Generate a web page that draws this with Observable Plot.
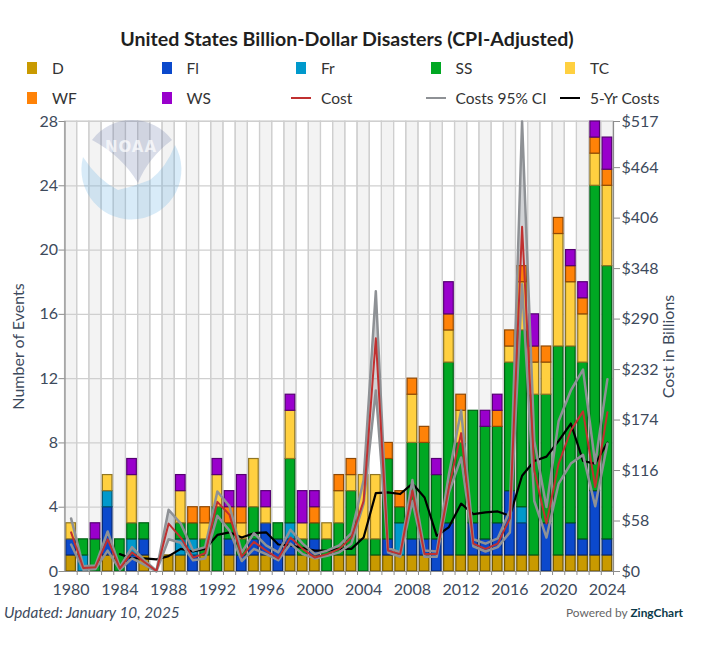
<!DOCTYPE html>
<html><head><meta charset="utf-8">
<script src="https://cdn.jsdelivr.net/npm/d3@7"></script>
<script src="https://cdn.jsdelivr.net/npm/@observablehq/plot@0.6"></script>
<style>
html,body{margin:0;padding:0;background:#fff;width:702px;height:646px;overflow:hidden;font-family:Lato,sans-serif;color:#333}
#wrap{position:relative;width:702px;height:646px}
#title{position:absolute;left:0;top:26px;width:694px;text-align:center;font-weight:700;font-size:19.6px;line-height:26px;color:#1f1f1f}
#legend{position:absolute;left:26px;top:53.5px;display:grid;grid-template-columns:repeat(5,134.5px);grid-auto-rows:29.5px;font-size:15.5px}
#legend .it{display:flex;align-items:center;height:29.5px;white-space:nowrap}
#legend .sw{display:inline-block;width:26px;flex:none}
#legend .sq{display:block;width:10px;height:12px;margin-left:1px}
#legend .ln{display:block;width:20px;height:2px;margin-left:-4px}
#chart{position:absolute;left:0;top:111px}
#logo{position:absolute;left:0;top:0;pointer-events:none}
#upd{position:absolute;left:4px;top:603px;font-style:italic;font-size:15.3px;color:#3d4a5c}
#pow{position:absolute;right:19px;top:605px;font-size:11.9px;color:#666}
#pow b{color:#0b3a4a}
</style></head><body><div id="wrap">
<div id="title">United States Billion-Dollar Disasters (CPI-Adjusted)</div>
<div id="legend"></div>
<div id="chart"></div>
<svg id="logo" width="702" height="646">
<path d="M83 157A50 50 0 1 0 175 145Q166 168 150 180Q135 186 118 190Q98 180 83 157Z" fill="rgb(90,170,225)" fill-opacity=".24"/>
<path d="M92 140A50 50 0 0 1 172 140Q148 158 138 183Q122 156 92 140Z" fill="rgb(70,90,150)" fill-opacity=".2"/>
<text x="131" y="152" text-anchor="middle" font-size="15" font-weight="700" letter-spacing="1" fill="#fff" fill-opacity=".7" font-family="DejaVu Sans">NOAA</text>
</svg>
<div id="upd">Updated: January 10, 2025</div>
<div id="pow">Powered by <b>ZingChart</b></div>
</div>
<script>
const years = d3.range(1980, 2025);
const types = ["D","Fl","Fr","SS","TC","WF","WS"];
const colors = ["#c99a00","#0b49cc","#0099cc","#00a823","#ffd040","#ff8207","#9900cc"];
const D  = [1,0,0,1,0,0,1,0,1,1,0,1,0,1,0,1,1,0,1,1,1,0,1,1,0,1,1,1,1,1,0,1,1,1,1,1,1,1,1,0,1,1,1,1,1];
const Fl = [1,0,0,3,0,1,1,0,0,0,1,0,0,1,1,1,2,2,1,0,1,0,0,0,0,0,1,0,1,1,2,2,0,2,1,2,4,2,0,3,0,2,1,4,1];
const Fr = [0,1,0,1,0,1,0,0,0,1,1,0,0,0,0,0,0,0,1,0,0,0,0,0,0,0,0,2,0,0,0,0,0,0,0,0,0,1,0,0,0,0,0,0,0];
const SS = [0,1,2,0,2,1,1,0,0,1,1,1,4,1,1,2,0,1,4,1,1,2,2,4,2,1,5,1,6,6,4,10,7,7,7,6,8,11,10,8,13,11,11,19,17];
const TC = [1,0,0,1,0,3,0,0,0,2,0,1,2,0,1,3,1,0,3,1,0,1,2,1,4,4,0,0,3,0,0,2,2,0,0,0,1,3,2,2,7,4,3,2,5];
const WF = [0,0,0,0,0,0,0,0,0,0,1,1,0,1,1,0,0,0,0,0,1,0,1,1,0,0,1,1,1,1,0,1,1,0,0,1,1,1,1,1,1,1,1,1,1];
const WS = [0,0,1,0,0,1,0,0,0,1,0,0,1,1,2,0,1,0,1,2,1,0,0,0,0,0,0,0,0,0,1,2,0,0,1,1,0,0,2,0,0,1,1,1,2];
const cost = [45,4,5,37,3.5,22,11,0.5,55,39,16,21,80,65,17,34,24,15,39,26,16,20,26,39,81,268,24,20,93,20,20,97,159,32,26,32,61,396,116,55,124,162,184,97,183];
const ciHigh = [61,6,7,46,5,28,13,1,71,55,24,28,92,75,22,44,30,22,48,32,20,24,30,44,105,322,27,22,105,24,23,112,185,37,32,38,70,517,150,74,173,208,232,124,221];
const ciLow = [31,2,3,24,2,15,8,0.2,37,33,13,15,64,47,12,26,20,13,32,20,15,18,22,32,78,208,22,17,81,17,17,91,131,29,23,28,45,330,81,39,101,124,134,75,147];
const fiveYr = [null,null,null,null,20,15,15,14,17.6,26,23,26,42,45,39,44,45,31,30,27,24,24,26,26,39,90,91,89,101,85,41,51,78,66,68,69,64,110,127,132,150,170,127,124,148];
const eventTicks = [0,4,8,12,16,20,24,28];
const costTicks = [0,58,116,174,232,290,348,406,464,517];
const yearTicks = years.filter(y => (y - 1980) % 4 === 0);
const series = [D,Fl,Fr,SS,TC,WF,WS];

const toY = c => c * 28 / 517;
const rows = types.flatMap((t,i) => years.map((y,j) => ({year:y, n:series[i][j], fill:colors[i], stroke:d3.color(colors[i]).darker(1.6).formatHex()}))).filter(d => d.n > 0);
const costRows = years.map((y,j) => ({year:y, cost:toY(cost[j]), hi:toY(ciHigh[j]), lo:toY(ciLow[j]), five: fiveYr[j]==null?null:toY(fiveYr[j])}));
const inkColor = "#3d4a5c", gridColor = "#cfcfcf", axisColor = "#8c8c8c";

const chart = Plot.plot({
  width:702, height:489, marginLeft:64.5, marginRight:89, marginTop:10, marginBottom:29,
  style:{fontFamily:"Lato,sans-serif", fontSize:"16px", background:"transparent", overflow:"visible"},
  x:{type:"band", domain:years, padding:0, round:false, label:null, axis:null},
  y:{domain:[0,28], label:null, axis:null},
  color:{type:"identity"},
  marks:[
    Plot.barY(years.filter((y,i)=>i%2===0), {x:d=>d, y1:0, y2:28, fill:"#f3f3f3"}),
    Plot.gridY(eventTicks, {stroke:gridColor, strokeOpacity:1, strokeWidth:1.2}),
    Plot.barY(years, {x:d=>d, y1:0, y2:28, fill:"none", stroke:gridColor, strokeWidth:1.2}),
    Plot.areaY(costRows, {x:"year", y1:"lo", y2:"hi", fill:"#8a8f96", fillOpacity:0.4}),
    Plot.barY(rows, {x:"year", y:"n", fill:"fill", stroke:"stroke", strokeWidth:1.2, insetLeft:1.3, insetRight:1.3}),
    Plot.line(costRows, {x:"year", y:"five", stroke:"#000", strokeWidth:2.2}),
    Plot.line(costRows, {x:"year", y:"hi", stroke:"#8e9195", strokeWidth:2.5}),
    Plot.line(costRows, {x:"year", y:"lo", stroke:"#8e9195", strokeWidth:2.5}),
    Plot.line(costRows, {x:"year", y:"cost", stroke:"#c03030", strokeWidth:2}),
    Plot.frame({anchor:"left", stroke:axisColor, strokeWidth:1.2}),
    Plot.frame({anchor:"right", stroke:axisColor, strokeWidth:1.2}),
    Plot.frame({anchor:"bottom", stroke:axisColor, strokeWidth:1.2}),
    Plot.axisY(eventTicks, {anchor:"left", tickSize:6, tickPadding:1, stroke:axisColor, fill:inkColor, label:"Number of Events", labelAnchor:"center", labelOffset:52, labelArrow:"none"}),
    Plot.axisY(costTicks.map(toY), {anchor:"right", tickSize:6, tickPadding:2, stroke:axisColor, fill:inkColor, tickFormat:(d,i)=>"$"+costTicks[i], label:"Cost in Billions", labelAnchor:"center", labelOffset:60, labelArrow:"none"}),
    Plot.axisX(years, {anchor:"bottom", tickSize:4, dx:6.1, stroke:axisColor, tickFormat:()=>""}),
    Plot.axisX(yearTicks, {anchor:"bottom", tickSize:0, tickPadding:12, fill:inkColor, tickFormat:d=>String(d)})
  ]
});
document.getElementById("chart").append(chart);

const items = [...types.map((t,i)=>({t, c:colors[i], k:"sq"})),
  {t:"Cost", c:"#c03030", k:"ln"},{t:"Costs 95% CI", c:"#8e9195", k:"ln"},{t:"5-Yr Costs", c:"#000", k:"ln"}];
const lg = document.getElementById("legend");
items.forEach(it=>{
  const e=document.createElement("div");e.className="it";
  const sw=document.createElement("span");sw.className="sw";
  const m=document.createElement("span");m.className=it.k;m.style.background=it.c;sw.append(m);
  const tx=document.createElement("span");tx.textContent=it.t;
  e.append(sw,tx);lg.append(e);
});
</script>
</body></html>
